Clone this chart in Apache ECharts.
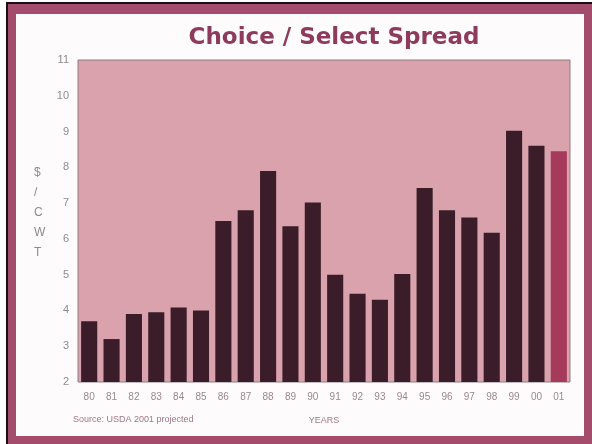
<!DOCTYPE html>
<html>
<head>
<meta charset="utf-8">
<script src="https://cdn.jsdelivr.net/npm/echarts@6/dist/echarts.min.js"></script>
<style>
  html, body { margin: 0; padding: 0; background: #fff; }
  .frame-outer {
    position: absolute; left: 6px; top: 2px; width: 586px; height: 442px;
    box-sizing: border-box; border-left: 2px solid #1a1014; border-top: 2px solid #1a1014;
  }
  .frame-inner {
    position: absolute; left: 0; top: 0; right: 0; bottom: 0;
    box-sizing: border-box; background: #fdfbfc;
    border-style: solid; border-color: #a44c6c;
    border-width: 10px 8px 8px 8px;
  }
  #chart { position: absolute; left: 0; top: 0; width: 592px; height: 444px; }
</style>
</head>
<body>
<div class="frame-outer"><div class="frame-inner"></div></div>
<div id="chart"></div>
<script>
// years shown along the bottom
const years = ['80', '81', '82', '83', '84', '85', '86', '87', '88', '89', '90',
  '91', '92', '93', '94', '95', '96', '97', '98', '99', '00', '01']
// choice / select spread, $ per cwt (01 is projected)
const spread = [3.7, 3.2, 3.9, 3.95, 4.08, 4.0, 6.5, 6.8, 7.9, 6.35, 7.02,
  5.0, 4.47, 4.3, 5.02, 7.42, 6.8, 6.6, 6.17, 9.02, 8.6, 8.45]
const projectedYear = '01'

const chart = echarts.init(document.getElementById('chart'))

const barData = spread.map((v, i) => {
  if (years[i] === projectedYear) {
    return { value: v, itemStyle: { color: '#a63a5a' } }
  }
  return v
})

const option = {
  animation: false,
  title: {
    text: 'Choice / Select Spread',
    left: 329,
    top: 22,
    textAlign: 'center',
    textStyle: {
      fontFamily: 'DejaVu Sans',
      fontWeight: 'bold',
      fontSize: 23,
      color: '#8e3a5c'
    }
  },
  grid: {
    left: 78,
    right: 22,
    top: 60,
    bottom: 62,
    show: true,
    backgroundColor: '#d9a2ac',
    borderColor: '#8f7d84',
    borderWidth: 1
  },
  xAxis: {
    type: 'category',
    data: years,
    name: 'YEARS',
    nameLocation: 'middle',
    nameGap: 34,
    nameTextStyle: { color: '#a07888', fontSize: 9, fontFamily: 'Liberation Sans' },
    axisLine: { show: false },
    axisTick: { show: false },
    axisLabel: {
      interval: 0,
      margin: 10,
      fontSize: 10,
      color: '#9a8890',
      fontFamily: 'Liberation Sans'
    }
  },
  yAxis: {
    type: 'value',
    min: 2,
    max: 11,
    interval: 1,
    axisLine: { show: false },
    axisTick: { show: false },
    splitLine: { show: false },
    axisLabel: {
      margin: 9,
      fontSize: 11,
      color: '#8c8c8c',
      fontFamily: 'Liberation Sans'
    }
  },
  graphic: [
    {
      type: 'text',
      left: 34,
      top: 163,
      style: {
        text: '$\n/\nC\nW\nT',
        align: 'center',
        lineHeight: 20,
        fontSize: 12,
        fontFamily: 'Liberation Sans',
        fill: '#8c8c8c'
      }
    },
    {
      type: 'text',
      left: 73,
      top: 415,
      style: {
        text: 'Source: USDA 2001 projected',
        fontSize: 9,
        fontFamily: 'Liberation Sans',
        fill: '#a07888'
      }
    }
  ],
  series: [
    {
      type: 'bar',
      data: barData,
      barCategoryGap: '28%',
      itemStyle: { color: '#3a1d29' }
    }
  ]
}

chart.setOption(option)
</script>
</body>
</html>
